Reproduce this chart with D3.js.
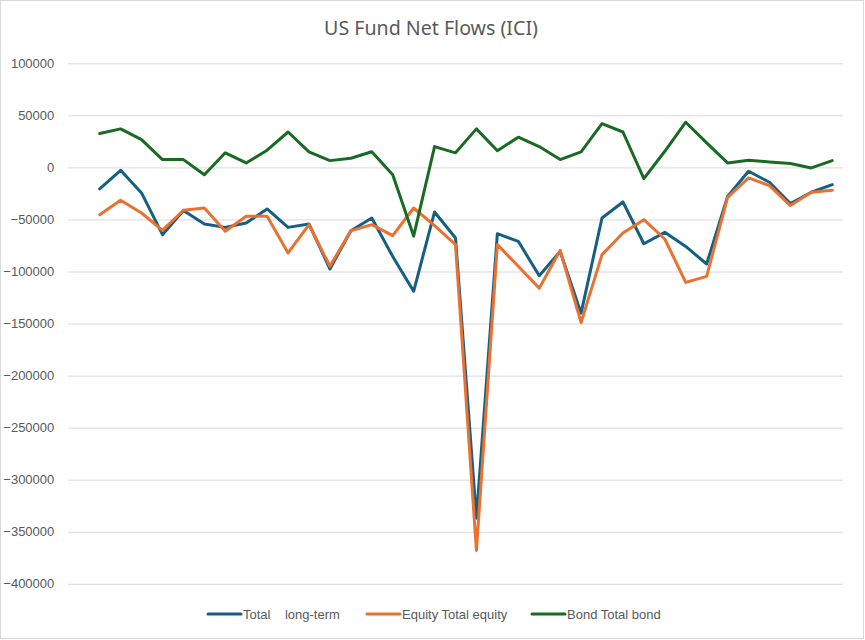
<!DOCTYPE html>
<html>
<head>
<meta charset="utf-8">
<script src="https://cdn.jsdelivr.net/npm/d3@7"></script>
<style>
  body { margin: 0; background: #fff; }
  text { font-family: "Liberation Sans", Arial, sans-serif; fill: #595959; }
</style>
</head>
<body>
<div id="chart"></div>
<script>
/**
 * CONSTANTS AND DATA
 * 37 category slots, the first one has no value in the source sheet
 * */
const width = 865,
  height = 640,
  margin = { top: 63.3, bottom: 56.2, left: 68.3, right: 22.3 };

const seriesNames = ["Total    long-term", "Equity Total equity", "Bond Total bond"];
const seriesColors = ["#156082", "#E97132", "#196B24"];

const totalLongTerm = [null,
  -20700, -2800, -24500, -64600, -41500, -54300, -57600, -53400, -39900, -57600,
  -54300, -97600, -60800, -48600, -85500, -119000, -42800, -67800, -337000, -63700,
  -71000, -104000, -80700, -140000, -48600, -33200, -73300, -62400, -75900, -92800,
  -27800, -3700, -14300, -34800, -23900, -16500];

const equityTotal = [null,
  -45400, -31600, -43800, -60500, -41200, -39000, -61400, -47000, -47000, -82200,
  -55000, -95000, -60800, -55000, -65600, -39000, -56000, -74200, -368000, -74200,
  -95000, -116000, -79700, -149000, -83800, -63000, -50200, -68800, -110500, -104700,
  -28700, -10100, -17500, -36700, -23900, -22000];

const bondTotal = [null,
  32500, 37000, 26700, 7500, 7500, -7000, 14000, 4300, 16500, 34000,
  15000, 6500, 8800, 15000, -7000, -66000, 20000, 14000, 37000, 16000,
  29000, 20000, 7500, 15000, 42000, 34000, -10800, 15500, 43400, 23500,
  4300, 6800, 5300, 3700, -500, 6500];

const yTicks = [100000, 50000, 0, -50000, -100000, -150000, -200000, -250000, -300000, -350000, -400000];

const categories = d3.range(totalLongTerm.length);

const svg = d3.select("#chart")
  .append("svg")
  .attr("width", width)
  .attr("height", height);

// chart area border
svg.append("rect")
  .attr("x", 0.5).attr("y", 0.5)
  .attr("width", width - 2).attr("height", height - 2)
  .attr("fill", "#fff")
  .attr("stroke", "#d9d9d9")
  .attr("stroke-width", 1);

const x = d3.scalePoint()
  .domain(categories)
  .range([margin.left, width - margin.right])
  .padding(0.5);

const y = d3.scaleLinear()
  .domain([-400000, 100000])
  .range([height - margin.bottom, margin.top]);

// gridlines + y labels
const yAxis = d3.axisLeft(y)
  .tickValues(yTicks)
  .tickSize(-(width - margin.left - margin.right))
  .tickPadding(14)
  .tickFormat(d3.format("d"));

svg.append("g")
  .attr("transform", `translate(${margin.left},0)`)
  .call(yAxis)
  .call(g => g.select(".domain").remove())
  .call(g => g.selectAll(".tick line").attr("stroke", "#d9d9d9").attr("stroke-width", 1))
  .call(g => g.selectAll(".tick text")
    .attr("font-size", 13)
    .attr("fill", "#595959")
    .style("font-family", "Liberation Sans, Arial, sans-serif"));

// lines
const line = d3.line()
  .defined(d => d != null)
  .x((d, i) => x(categories[i]))
  .y(d => y(d));

const allSeries = [totalLongTerm, equityTotal, bondTotal];

svg.selectAll("path.series")
  .data(allSeries)
  .join("path")
  .attr("class", "series")
  .attr("fill", "none")
  .attr("stroke", (d, i) => seriesColors[i])
  .attr("stroke-width", 3)
  .attr("stroke-linejoin", "round")
  .attr("stroke-linecap", "round")
  .attr("d", line);

// title
svg.append("text")
  .attr("x", 431)
  .attr("y", 35)
  .attr("text-anchor", "middle")
  .attr("font-size", 19.6)
  .style("font-family", "'Noto Sans', sans-serif")
  .attr("fill", "#595959")
  .text("US Fund Net Flows (ICI)");

// legend
const legendX = [208, 367, 532];
const legend = svg.selectAll("g.legend")
  .data(seriesNames)
  .join("g")
  .attr("class", "legend")
  .attr("transform", (d, i) => `translate(${legendX[i]}, 614)`);

legend.append("line")
  .attr("x1", 0).attr("x2", 33)
  .attr("stroke", (d, i) => seriesColors[i])
  .attr("stroke-width", 3)
  .attr("stroke-linecap", "round");

legend.append("text")
  .attr("x", 35)
  .attr("y", 4.5)
  .attr("font-size", 13)
  .style("white-space", "pre")
  .text(d => d);
</script>
</body>
</html>
